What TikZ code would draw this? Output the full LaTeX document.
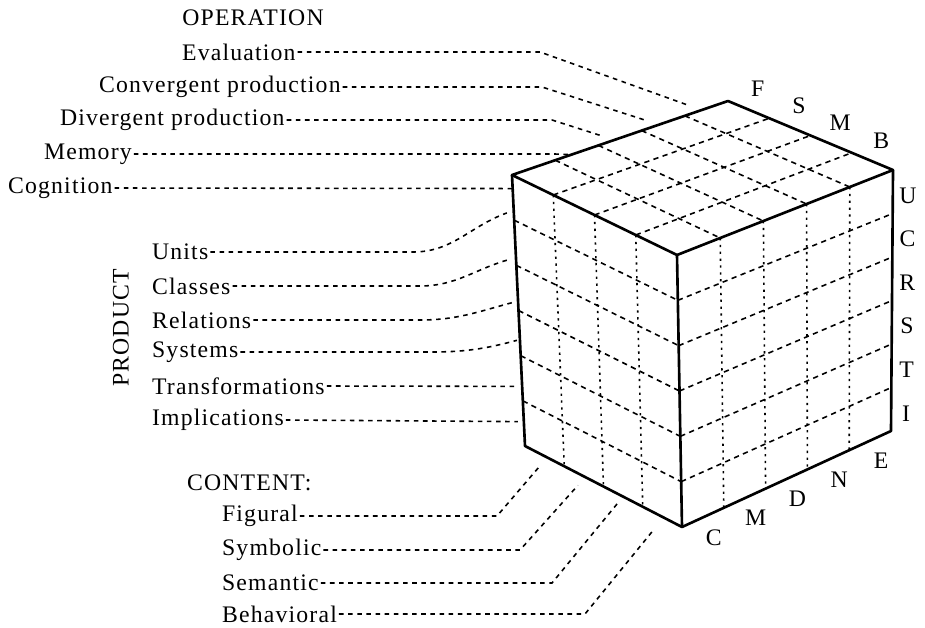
\documentclass[tikz,border=0pt]{standalone}
\usepackage{fontspec}
\setmainfont{Liberation Serif}[LetterSpace=5]
\usetikzlibrary{calc}

\begin{document}
\begin{tikzpicture}[x=0.2mm,y=-0.2mm,
    every node/.style={font=\fontsize{13.5}{16}\selectfont,inner sep=1pt},
    edge/.style={line width=1.5pt,line join=round},
    grid/.style={line width=0.9pt,dash pattern=on 3pt off 2.5pt},
    vgrid/.style={line width=0.9pt,dash pattern=on 1.3pt off 2.6pt},
    lead/.style={line width=0.9pt,dash pattern=on 2.6pt off 2.6pt}]
\useasboundingbox (0,0) rectangle (925,627);

% cube corners
\coordinate (L) at (512,175);
\coordinate (Bk) at (728,101);
\coordinate (R) at (893,170);
\coordinate (F) at (677,255);
\coordinate (LB) at (525,446);
\coordinate (FB) at (682,527);
\coordinate (RB) at (891,431);

% grid on the three faces
\foreach \i in {0.2,0.4,0.6,0.8} {
  \draw[grid] ($(L)!\i!(Bk)$) -- ($(F)!\i!(R)$);
  \draw[vgrid] ($(F)!\i!(R)$) -- ($(FB)!\i!(RB)$);
}
\foreach \j in {0.25,0.5,0.75} {
  \draw[grid] ($(L)!\j!(F)$) -- ($(Bk)!\j!(R)$);
  \draw[vgrid] ($(L)!\j!(F)$) -- ($(LB)!\j!(FB)$);
}
\foreach \k in {1,...,5} {
  \draw[grid] ($(L)!\k/6!(LB)$) -- ($(F)!\k/6!(FB)$);
  \draw[grid] ($(F)!\k/6!(FB)$) -- ($(R)!\k/6!(RB)$);
}

% cube edges
\draw[edge] (L) -- (Bk) -- (R) -- (F) -- cycle;
\draw[edge] (L) -- (LB) -- (FB) -- (RB) -- (R);
\draw[edge] (F) -- (FB);

% letters on the cube
\foreach \t [count=\n from 0] in {F,S,M,B}
  \node (top\n) at ($(Bk)!{(2*\n+1)/8}!(R)+(9,-21)$) {\t};
\foreach \t [count=\n from 0] in {U,C,R,S,T,I}
  \node (side\n) at ($(R)!{(2*\n+1)/12}!(RB)+(15,4)$) {\t};
\foreach \t [count=\n from 0] in {C,M,D,N,E}
  \node (bot\n) at ($(FB)!{(2*\n+1)/10}!(RB)+(11,20)$) {\t};

% operation
\node (operation) at (253,18) {OPERATION};
\node[anchor=west] (eval) at (180,52) {Evaluation};
\node[anchor=west] (conv) at (97,87) {Convergent production};
\node[anchor=west] (div) at (58,120) {Divergent production};
\node[anchor=west] (mem) at (42,154) {Memory};
\node[anchor=west] (cog) at (6,188) {Cognition};

\coordinate (oE) at ($(L)!0.8!(Bk)+(5,-10)$);
\coordinate (oN) at ($(L)!0.6!(Bk)+(5,-10)$);
\coordinate (oD) at ($(L)!0.4!(Bk)+(5,-9)$);
\coordinate (oM) at ($(L)!0.25!(Bk)+(2,-2)$);
\coordinate (oC) at ($(L)!0.05!(LB)$);

\draw[lead] (eval.east) -- (540,52) -- (oE);
\draw[lead] (conv.east) -- (542,87) -- (oN);
\draw[lead] (div.east) -- (552,120) -- (oD);
\draw[lead] (mem.east) -- (555,154) -- (oM);
\draw[lead] (cog.east) -- (oC);

% product
\node[rotate=90] (product) at (121,328) {PRODUCT};
\node[anchor=west] (units) at (150,252) {Units};
\node[anchor=west] (classes) at (150,286) {Classes};
\node[anchor=west] (rel) at (150,320) {Relations};
\node[anchor=west] (sys) at (150,352) {Systems};
\node[anchor=west] (trans) at (150,386) {Transformations};
\node[anchor=west] (impl) at (150,420) {Implications};

\coordinate (pU) at ($(L)!0.14!(LB)+(-7,0)$);
\coordinate (pC) at ($(L)!0.31!(LB)+(-5,0)$);
\coordinate (pR) at ($(L)!0.47!(LB)+(-5,0)$);
\coordinate (pS) at ($(L)!0.61!(LB)+(-3,0)$);
\coordinate (pT) at ($(L)!0.78!(LB)+(-8,0)$);
\coordinate (pI) at ($(L)!0.91!(LB)+(-6,0)$);

\draw[lead] (units.east) -- (413,252) to[out=0,in=200] (pU);
\draw[lead] (classes.east) -- (420,286) to[out=0,in=195] (pC);
\draw[lead] (rel.east) -- (420,320) to[out=0,in=195] (pR);
\draw[lead] (sys.east) -- (430,352) to[out=0,in=195] (pS);
\draw[lead] (trans.east) -- (pT);
\draw[lead] (impl.east) -- (pI);

% content
\node[anchor=west] (content) at (185,483) {CONTENT:};
\node[anchor=west] (fig) at (220,516) {Figural};
\node[anchor=west] (sym) at (220,550) {Symbolic};
\node[anchor=west] (sem) at (220,583) {Semantic};
\node[anchor=west] (beh) at (220,614) {Behavioral};

\coordinate (cF) at ($(LB)!0.125!(FB)+(-4,9)$);
\coordinate (cS) at ($(LB)!0.375!(FB)+(-6,9)$);
\coordinate (cM) at ($(LB)!0.625!(FB)+(-5,6)$);
\coordinate (cB) at ($(LB)!0.875!(FB)+(-8,12)$);

\draw[lead] (fig.east) -- (497,516) -- (cF);
\draw[lead] (sym.east) -- (520,550) -- (cS);
\draw[lead] (sem.east) -- (552,583) -- (cM);
\draw[lead] (beh.east) -- (585,614) -- (cB);
\end{tikzpicture}
\end{document}
